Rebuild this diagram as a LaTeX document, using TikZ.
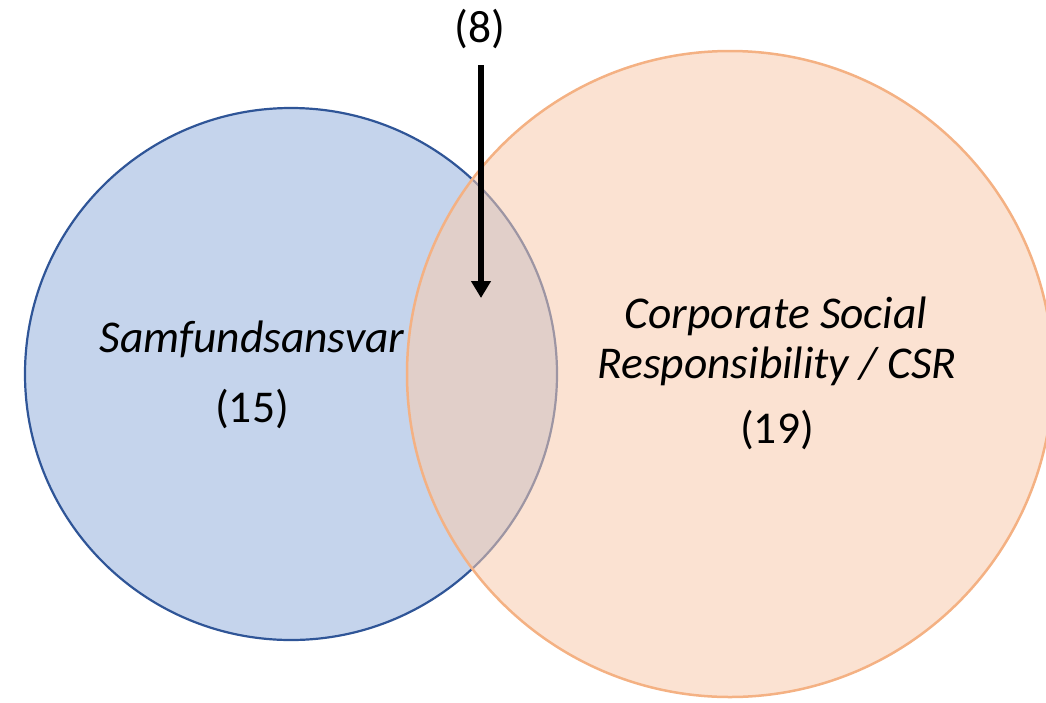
\documentclass[tikz,border=0pt]{standalone}
\usepackage{fontspec}
\setmainfont{Carlito}
\usepackage{tikz}
\usetikzlibrary{arrows.meta}
\definecolor{setAfill}{HTML}{C5D4EC}
\definecolor{setAline}{HTML}{2F5597}
\definecolor{setBfill}{HTML}{F8CBAD}
\definecolor{setBline}{HTML}{F4B183}
\tikzstyle{setA}=[circle, draw=setAline, fill=setAfill, line width=2.2pt, inner sep=0pt]
\tikzstyle{setB}=[circle, draw=setBline, fill=setBfill, fill opacity=0.55, draw opacity=1, line width=2.5pt, inner sep=0pt]
\tikzstyle{counttext}=[anchor=base, inner sep=0pt, font=\fontsize{45.5}{50}\selectfont]
\tikzstyle{nametext}=[counttext, font=\fontsize{45.5}{50}\selectfont\itshape]

\begin{document}
\begin{tikzpicture}[x=1pt, y=-1pt]
        \useasboundingbox (0, 0) rectangle (1046, 702);
        \begin{scope}
            \clip (0, 0) rectangle (1046, 702);
            \node[setA, minimum size=532pt] (samf) at (291, 374) {};
            \node[setB, minimum size=646pt] (csr) at (730, 374) {};
        \end{scope}
        \node[nametext] (samfname) at (252, 352) {Samfundsansvar};
        \node[counttext] (samfcount) at (252, 422) {(15)};
        \node[nametext] (csrname1) at (776, 328) {Corporate Social};
        \node[nametext] (csrname2) at (777, 378) {Responsibility / CSR};
        \node[counttext] (csrcount) at (777, 443) {(19)};
        \node[counttext] (both) at (480, 42) {(8)};
        \coordinate (arrowtop) at (481, 65);
        \coordinate (arrowtip) at (481, 298);
        \draw[line width=5.5pt, -{Triangle[width=19pt, length=17pt]}] (arrowtop) -- (arrowtip);
    \end{tikzpicture}
\end{document}
